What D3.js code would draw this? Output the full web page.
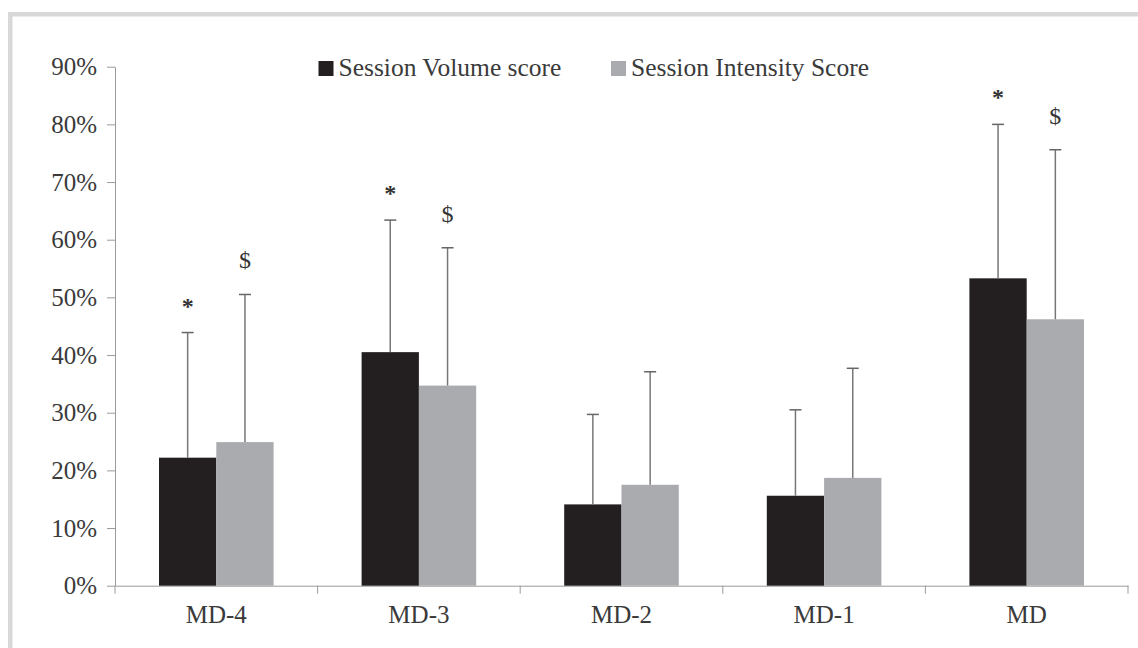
<!DOCTYPE html>
<html>
<head>
<meta charset="utf-8">
<script src="https://cdn.jsdelivr.net/npm/d3@7"></script>
<style>
  html, body { margin: 0; padding: 0; background: #fff; }
  svg { display: block; }
  text { font-family: "Liberation Serif", "Times New Roman", serif; }
</style>
</head>
<body>
<svg id="chart" width="1138" height="648"></svg>
<script>
// Session scores per match-day (mean and SD, as fractions)
const categories = ["MD-4", "MD-3", "MD-2", "MD-1", "MD"];
const seriesNames = ["Session Volume score", "Session Intensity Score"];
const volumeMean = [0.222, 0.405, 0.141, 0.156, 0.533];
const volumeSD = [0.217, 0.229, 0.156, 0.149, 0.267];
const intensityMean = [0.249, 0.347, 0.175, 0.187, 0.462];
const intensitySD = [0.256, 0.239, 0.196, 0.190, 0.294];
const volumeMarks = ["*", "*", "", "", "*"];
const intensityMarks = ["$", "$", "", "", "$"];
const yTicks = [0, 0.1, 0.2, 0.3, 0.4, 0.5, 0.6, 0.7, 0.8, 0.9];

const colors = { vol: "#231f20", int: "#a9abae" };
const axisColor = "#9a9a9a";
const textColor = "#3a3a3a";

const series = [
  { key: "vol", mean: volumeMean, sd: volumeSD, marks: volumeMarks },
  { key: "int", mean: intensityMean, sd: intensitySD, marks: intensityMarks }
];

const svg = d3.select("#chart");

// light grey frame around the figure
svg.append("rect")
  .attr("x", 10.25).attr("y", 14.25)
  .attr("width", 2000).attr("height", 2000)
  .attr("fill", "none")
  .attr("stroke", "#d8d8d8")
  .attr("stroke-width", 4.5);

const plot = { left: 115, right: 1128, top: 66.7, bottom: 585.7 };

const y = d3.scaleLinear().domain([0, 0.9]).range([plot.bottom, plot.top]);
const x = d3.scaleBand().domain(categories).range([plot.left, plot.right]);
const x1 = d3.scaleBand().domain(["vol", "int"])
  .range([0, x.bandwidth()]).paddingInner(0).paddingOuter(0.768);

// y axis
const yAxis = svg.append("g")
  .attr("transform", `translate(${plot.left},0)`)
  .call(d3.axisLeft(y).tickValues(yTicks).tickFormat(d3.format(".0%"))
    .tickSize(8).tickSizeOuter(0).tickPadding(10));
yAxis.select(".domain").attr("stroke", axisColor);
yAxis.selectAll(".tick line").attr("stroke", axisColor);
yAxis.selectAll(".tick text")
  .attr("fill", textColor)
  .style("font-size", "25px");

// x axis: labels at category centres, ticks at category boundaries
const xAxis = svg.append("g")
  .attr("transform", `translate(0,${plot.bottom})`)
  .call(d3.axisBottom(x).tickSize(0).tickSizeOuter(0).tickPadding(19.5));
xAxis.select(".domain").attr("stroke", axisColor);
xAxis.selectAll(".tick text")
  .attr("fill", textColor)
  .style("font-size", "25px");

const bounds = categories.map(c => x(c)).concat([x.range()[1]]);
svg.append("g").selectAll("line")
  .data(bounds)
  .join("line")
  .attr("x1", d => d).attr("x2", d => d)
  .attr("y1", plot.bottom).attr("y2", plot.bottom + 8)
  .attr("stroke", axisColor);

// bars, error bars and significance marks
const capHalf = 6;
series.forEach(s => {
  const g = svg.append("g");
  const data = categories.map((c, i) => ({ c, m: s.mean[i], sd: s.sd[i], mark: s.marks[i] }));
  const cx = d => x(d.c) + x1(s.key) + x1.bandwidth() / 2;

  g.selectAll("rect.bar")
    .data(data)
    .join("rect")
    .attr("class", "bar")
    .attr("x", d => x(d.c) + x1(s.key))
    .attr("width", x1.bandwidth())
    .attr("y", d => y(d.m))
    .attr("height", d => y(0) - y(d.m))
    .attr("fill", colors[s.key]);

  g.selectAll("line.err")
    .data(data)
    .join("line")
    .attr("class", "err")
    .attr("x1", cx).attr("x2", cx)
    .attr("y1", d => y(d.m)).attr("y2", d => y(d.m + d.sd))
    .attr("stroke", "#777")
    .attr("stroke-width", 1.5);

  g.selectAll("line.cap")
    .data(data)
    .join("line")
    .attr("class", "cap")
    .attr("x1", d => cx(d) - capHalf).attr("x2", d => cx(d) + capHalf)
    .attr("y1", d => y(d.m + d.sd)).attr("y2", d => y(d.m + d.sd))
    .attr("stroke", "#666")
    .attr("stroke-width", 1.5);

  g.selectAll("text.mark")
    .data(data.filter(d => d.mark))
    .join("text")
    .attr("class", "mark")
    .attr("x", cx)
    .attr("y", d => y(d.m + d.sd) - (d.mark === "*" ? 19 : 26))
    .attr("text-anchor", "middle")
    .attr("fill", "#333")
    .style("font-weight", d => d.mark === "*" ? "bold" : "normal")
    .style("font-size", "24px")
    .text(d => d.mark);
});

// legend
const legendItems = [
  { key: "vol", label: seriesNames[0], x: 318.5 },
  { key: "int", label: seriesNames[1], x: 611 }
];
const lg = svg.append("g");
legendItems.forEach(it => {
  lg.append("rect")
    .attr("x", it.x).attr("y", 61)
    .attr("width", 15).attr("height", 15)
    .attr("fill", colors[it.key]);
  lg.append("text")
    .attr("x", it.x + 20).attr("y", 76)
    .attr("fill", textColor)
    .style("font-size", "25.5px")
    .text(it.label);
});
</script>
</body>
</html>
